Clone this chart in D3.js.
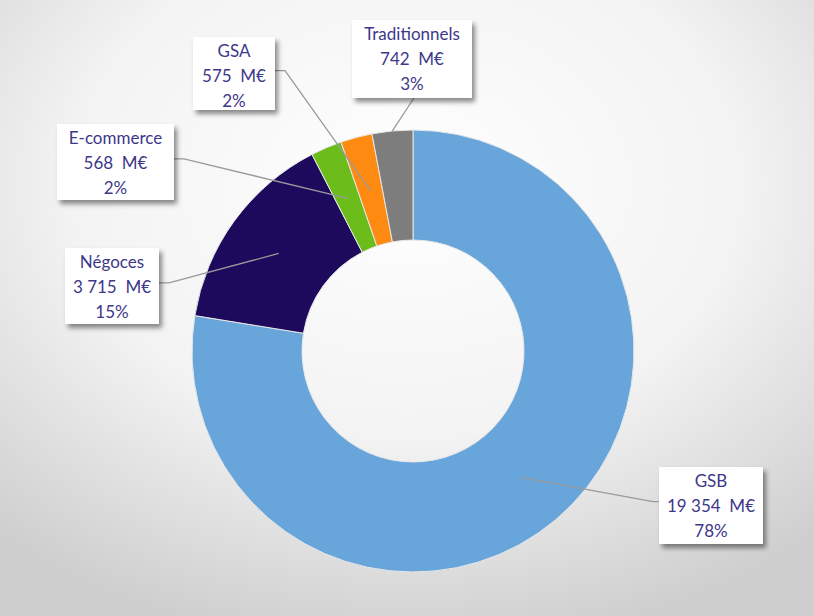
<!DOCTYPE html>
<html><head><meta charset="utf-8">
<script src="https://cdn.jsdelivr.net/npm/d3@7"></script>
<style>html,body{margin:0;padding:0;overflow:hidden;}</style>
</head><body>
<script>
const categories = ["GSB", "Négoces", "E-commerce", "GSA", "Traditionnels"];
const values = [19354, 3715, 568, 575, 742];
const valueLabels = ["19 354  M€", "3 715  M€", "568  M€", "575  M€", "742  M€"];
const percentLabels = ["78%", "15%", "2%", "2%", "3%"];
const colors = ["#68a5db", "#1d0a5c", "#6cbd1c", "#ff8a12", "#7d7d7d"];

// layout of label boxes (x, y, w, h) and leader elbow
const boxes = [
  {x: 659, y: 467, w: 104, h: 77, side: "left"},
  {x: 65, y: 248, w: 94, h: 76, side: "right"},
  {x: 57, y: 124, w: 117, h: 76, side: "right"},
  {x: 193, y: 37, w: 82, h: 73, side: "right"},
  {x: 352, y: 20, w: 120, h: 78, side: "bottom"}
];

const W = 814, H = 616;
const cx = 413, cy = 351, R = 221, r0 = 111;

const svg = d3.select("body").append("svg").attr("width", W).attr("height", H);
const defs = svg.append("defs");
const grad = defs.append("radialGradient").attr("id", "bg")
  .attr("cx", "50%").attr("cy", "30%").attr("r", "75%");
grad.append("stop").attr("offset", "0%").attr("stop-color", "#ffffff");
grad.append("stop").attr("offset", "55%").attr("stop-color", "#f3f3f3");
grad.append("stop").attr("offset", "100%").attr("stop-color", "#cfcfcf");
const flt = defs.append("filter").attr("id", "sh").attr("x", "-20%").attr("y", "-20%").attr("width", "150%").attr("height", "150%");
flt.append("feDropShadow").attr("dx", 3).attr("dy", 4).attr("stdDeviation", 2.5).attr("flood-color", "#000").attr("flood-opacity", 0.45);

svg.append("rect").attr("width", W).attr("height", H).attr("fill", "url(#bg)");

const pie = d3.pie().sort(null).value(d => d)(values);
const arc = d3.arc().innerRadius(r0).outerRadius(R);
const g = svg.append("g").attr("transform", `translate(${cx},${cy})`);
g.selectAll("path").data(pie).join("path")
  .attr("d", arc)
  .attr("fill", (d, i) => colors[i])
  .attr("stroke", "#e8e8e8").attr("stroke-width", 1);

// leader lines
const midArc = d3.arc().innerRadius((r0 + R) / 2).outerRadius((r0 + R) / 2);
const outArc = d3.arc().innerRadius(R).outerRadius(R);
pie.forEach((d, i) => {
  const b = boxes[i];
  const a = (i === 4 ? outArc : midArc).centroid(d);
  const ax = cx + a[0], ay = cy + a[1];
  let pts;
  if (b.side === "left") {
    const ey = b.y + b.h * 0.45;
    pts = [[ax, ay], [b.x - 6, ey], [b.x, ey]];
  } else if (b.side === "right") {
    const ey = b.y + b.h * 0.46;
    pts = [[b.x + b.w, ey], [b.x + b.w + 10, ey], [ax, ay]];
  } else {
    pts = [[b.x + b.w / 2 + 2, b.y + b.h], [ax, ay]];
  }
  svg.append("path").attr("d", d3.line()(pts)).attr("fill", "none")
    .attr("stroke", "#9a9a9a").attr("stroke-width", 1.3);
});

// label boxes
boxes.forEach((b, i) => {
  const lg = svg.append("g");
  lg.append("rect").attr("x", b.x).attr("y", b.y).attr("width", b.w).attr("height", b.h)
    .attr("fill", "#ffffff").attr("filter", "url(#sh)");
  const lines = [categories[i], valueLabels[i], percentLabels[i]];
  lg.selectAll("text").data(lines).join("text")
    .attr("x", b.x + b.w / 2)
    .attr("y", (d, k) => b.y + 20 + k * 25)
    .attr("text-anchor", "middle")
    .attr("font-family", "Lato, 'Open Sans', sans-serif")
    .attr("font-size", 17)
    .attr("fill", "#3d3889")
    .style("white-space", "pre")
    .text(d => d);
});
</script>
</body></html>
